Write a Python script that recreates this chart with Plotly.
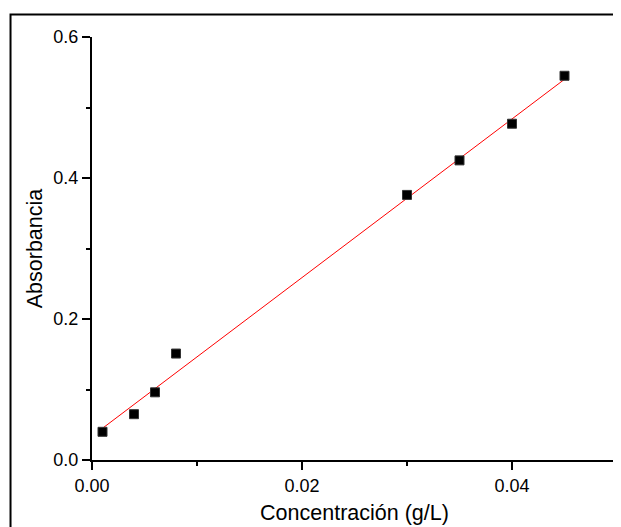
import plotly.graph_objects as go

# Data
conc = [0.001, 0.004, 0.006, 0.008, 0.030, 0.035, 0.040, 0.045]
absorb = [0.040, 0.065, 0.096, 0.151, 0.376, 0.425, 0.477, 0.545]
fit_x = [0.001, 0.045]
fit_y = [0.045, 0.540]

x_ticks = [0.00, 0.02, 0.04]
y_ticks = [0.0, 0.2, 0.4, 0.6]

FONT = "Liberation Sans, Arial, sans-serif"

fig = go.Figure()
fig.add_trace(go.Scatter(
    x=fit_x, y=fit_y, mode="lines",
    line=dict(color="#ff0000", width=1), showlegend=False, hoverinfo="skip"))
fig.add_trace(go.Scatter(
    x=conc, y=absorb, mode="markers",
    marker=dict(symbol="square", size=9, color="black",
                line=dict(color="#333333", width=1)),
    showlegend=False, cliponaxis=False))

axis_common = dict(
    showgrid=False, zeroline=False, showline=True, linecolor="black",
    linewidth=2, ticks="outside", ticklen=8, tickwidth=2, tickcolor="black",
    tickfont=dict(family=FONT, size=18, color="black"),
)

fig.update_xaxes(
    range=[0, 0.05], tickvals=x_ticks, ticktext=[f"{v:.2f}" for v in x_ticks],
    minor=dict(ticks="outside", ticklen=4, tickwidth=2, tickcolor="black", dtick=0.01, tick0=0),
    title=dict(text="Concentración (g/L)", font=dict(family=FONT, size=21.5, color="black"), standoff=10),
    **axis_common)
fig.update_yaxes(
    range=[0, 0.6], tickvals=y_ticks, ticktext=[f"{v:.1f}" for v in y_ticks],
    minor=dict(ticks="outside", ticklen=4, tickwidth=2, tickcolor="black", dtick=0.1, tick0=0),
    title=dict(text="Absorbancia", font=dict(family=FONT, size=21.5, color="black"), standoff=5),
    **axis_common)

# outer frame (cropped on right/bottom in the reference)
fig.add_shape(type="rect", xref="paper", yref="paper",
              x0=-0.1552, x1=1.5, y0=-0.5, y1=1.0532,
              line=dict(color="black", width=2), fillcolor="rgba(0,0,0,0)", layer="below")

# page body has an 8px margin, so the figure is 8px smaller than the window
fig.update_layout(
    width=613, height=519,
    margin=dict(l=84, r=4, t=29, b=67),
    paper_bgcolor="white", plot_bgcolor="white",
    font=dict(family=FONT, color="black"),
)

fig.write_html("out.html")
